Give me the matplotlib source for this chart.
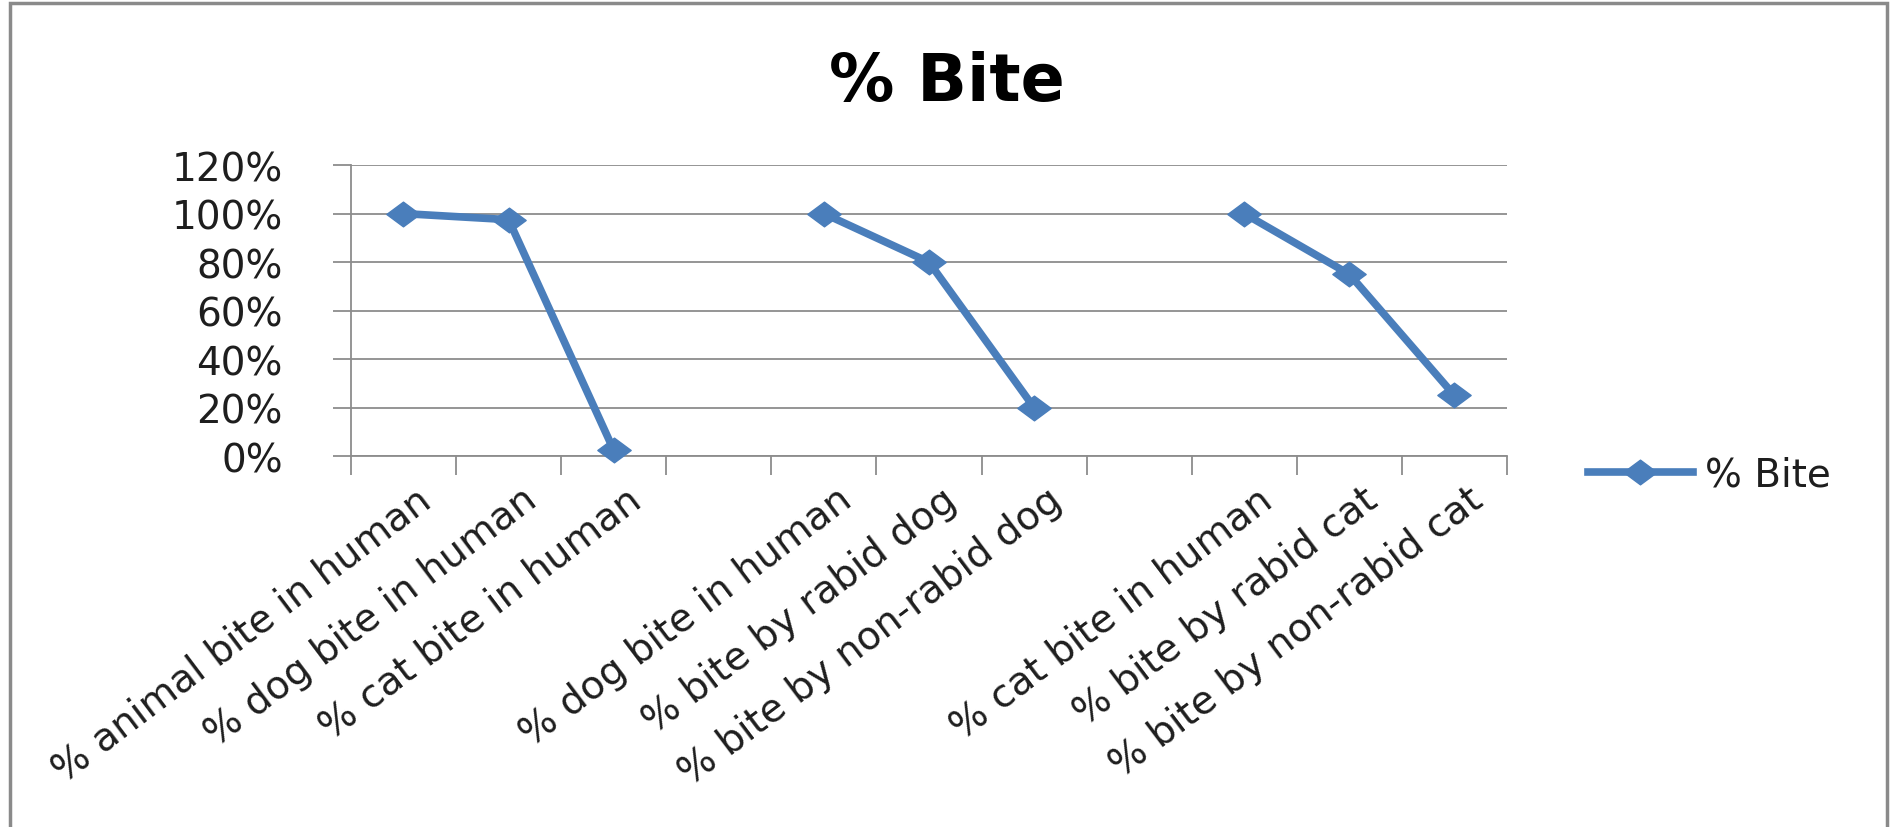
import numpy as np
import matplotlib.pyplot as plt
import matplotlib.transforms as mtransforms
from matplotlib.patches import Rectangle
from matplotlib.path import Path

# Categories along the x axis; blank entries leave a gap in the line
categories = [
    "% animal bite in human",
    "% dog bite in human",
    "% cat bite in human",
    "",
    "% dog bite in human",
    "% bite by rabid dog",
    "% bite by non-rabid dog",
    "",
    "% cat bite in human",
    "% bite by rabid cat",
    "% bite by non-rabid cat",
]
bite_pct = [100, 97.5, 2.5, np.nan, 100, 80, 20, np.nan, 100, 75, 25]
y_ticks = [0, 20, 40, 60, 80, 100, 120]
series_name = "% Bite"

blue = "#4A7EBB"
grid_gray = "#8C8C8C"
text_col = "#1E1E1E"

fig = plt.figure(figsize=(18.97, 8.28), dpi=100)
ax = fig.add_axes([0.185, 0.448, 0.6094, 0.3514])

# wide diamond marker
diamond = Path([(-1.35, 0), (0, 1), (1.35, 0), (0, -1), (-1.35, 0)],
               [Path.MOVETO, Path.LINETO, Path.LINETO, Path.LINETO, Path.CLOSEPOLY])

x = np.arange(len(categories)) + 0.5
ax.plot(x, bite_pct, color=blue, lw=5.5, marker=diamond, markersize=24,
        markeredgecolor=blue, label=series_name, clip_on=False, zorder=3)

ax.set_xlim(0, len(categories))
ax.set_ylim(0, 120)

# y axis
ax.set_yticks(y_ticks)
ax.set_yticklabels([f"{v}%" for v in y_ticks], fontsize=28, color=text_col)
ax.yaxis.grid(True, color=grid_gray, lw=1.3)
ax.set_axisbelow(True)
ax.tick_params(axis="y", length=13, width=1.3, color=grid_gray, pad=36)

# x axis: tick marks between categories, labels at category centres
ax.set_xticks(np.arange(len(categories) + 1))
ax.set_xticklabels([])
ax.tick_params(axis="x", which="major", length=14, width=1.3, color=grid_gray)
ax.set_xticks(x, minor=True)
ax.set_xticklabels(categories, minor=True, rotation=37, ha="right",
                   rotation_mode="anchor", fontsize=28, color=text_col)
ax.tick_params(axis="x", which="minor", length=0, pad=17)
shift = mtransforms.ScaledTranslation(0.12, 0, fig.dpi_scale_trans)
for lbl in ax.get_xticklabels(minor=True):
    lbl.set_transform(lbl.get_transform() + shift)

for side in ["top", "right"]:
    ax.spines[side].set_visible(False)
for side in ["left", "bottom"]:
    ax.spines[side].set_color(grid_gray)
    ax.spines[side].set_linewidth(1.3)

fig.text(0.499, 0.9, "% Bite", ha="center", va="center",
         fontsize=47, fontweight="bold", color="black")

leg = ax.legend(loc="center left", bbox_to_anchor=(1.07, -0.065), frameon=False,
                fontsize=28, handlelength=2.7, handletextpad=0.3,
                borderaxespad=0, borderpad=0)
for t in leg.get_texts():
    t.set_color(text_col)

# outer chart border
fig.patches.append(Rectangle((10 / 1897, -0.05), 1877 / 1897, 1.045,
                             transform=fig.transFigure, fill=False,
                             edgecolor="#8A8A8A", lw=2.5))

fig.savefig("out.png", dpi=100)
